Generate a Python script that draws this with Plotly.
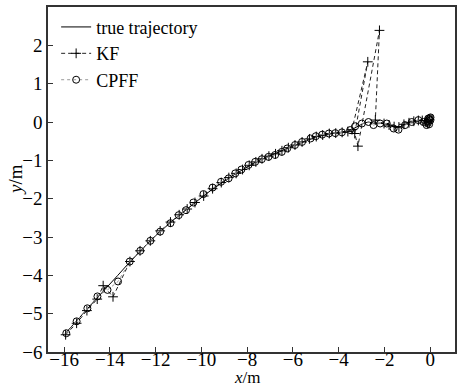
import plotly.graph_objects as go

true_x = [-15.95, -15.48, -15.02, -14.57, -14.13, -13.65, -13.17, -12.70, -12.25, -11.81,
          -11.37, -10.98, -10.64, -10.30, -9.93, -9.53, -9.15, -8.81, -8.50, -8.22,
          -7.93, -7.64, -7.36, -7.07, -6.78, -6.50, -6.22, -5.93, -5.62, -5.30,
          -5.00, -4.72, -4.43, -4.15, -3.87, -3.62, -3.38, -3.15, -2.93, -2.70,
          -2.48, -2.25, -2.02, -1.80, -1.58, -1.37, -1.15, -0.93, -0.72, -0.52,
          -0.35, -0.22, -0.12, -0.06, -0.03]
true_y = [-5.52, -5.22, -4.90, -4.60, -4.32, -4.00, -3.68, -3.38, -3.11, -2.86,
          -2.63, -2.44, -2.28, -2.11, -1.94, -1.76, -1.60, -1.47, -1.35, -1.25,
          -1.14, -1.05, -0.97, -0.90, -0.84, -0.77, -0.69, -0.61, -0.53, -0.45,
          -0.39, -0.35, -0.31, -0.29, -0.27, -0.24, -0.18, -0.10, -0.04, 0.00,
          -0.03, -0.03, -0.03, -0.08, -0.13, -0.14, -0.07, -0.02, 0.02, 0.05,
          0.04, 0.00, -0.03, 0.02, 0.06]

kf_x = [-15.93, -15.45, -15.00, -14.55, -14.29, -13.86, -13.12, -12.68, -12.23, -11.80,
        -11.35, -10.97, -10.62, -10.28, -9.90, -9.51, -9.13, -8.80, -8.48, -8.20,
        -7.91, -7.62, -7.35, -7.05, -6.76, -6.48, -6.20, -5.91, -5.60, -5.28,
        -4.98, -4.70, -4.41, -4.13, -3.85, -3.60, -3.42, -2.73, -3.30, -3.16,
        -2.22, -2.40, -2.02, -1.80, -1.58, -1.37, -1.15, -0.93, -0.72, -0.52,
        -0.35, -0.22, -0.12, -0.06, -0.03]
kf_y = [-5.55, -5.25, -4.92, -4.62, -4.27, -4.56, -3.64, -3.36, -3.10, -2.84,
        -2.61, -2.42, -2.27, -2.10, -1.93, -1.74, -1.58, -1.45, -1.34, -1.24,
        -1.13, -1.04, -0.96, -0.89, -0.83, -0.75, -0.67, -0.60, -0.52, -0.44,
        -0.38, -0.34, -0.30, -0.29, -0.27, -0.25, -0.20, 1.57, -0.30, -0.63,
        2.39, 0.05, -0.04, -0.08, -0.12, -0.13, -0.06, -0.02, 0.02, 0.04,
        0.04, 0.00, -0.02, 0.02, 0.06]

cpff_x = [-15.90, -15.45, -14.98, -14.54, -14.10, -13.64, -13.13, -12.67, -12.23, -11.80,
          -11.35, -10.99, -10.67, -10.35, -9.91, -9.51, -9.14, -8.81, -8.52, -8.25,
          -7.94, -7.65, -7.36, -7.07, -6.78, -6.49, -6.25, -5.91, -5.60, -5.23,
          -5.00, -4.72, -4.43, -4.15, -3.86, -3.50, -3.28, -2.99, -2.70, -2.48,
          -2.19, -1.90, -1.60, -1.39, -1.10, -0.81, -0.52, -0.30, -0.16, -0.09,
          -0.12, -0.02, 0.00, -0.05, -0.10, 0.01, -0.04]
cpff_y = [-5.51, -5.20, -4.86, -4.55, -4.38, -4.16, -3.64, -3.36, -3.10, -2.86,
          -2.64, -2.43, -2.30, -2.10, -1.88, -1.71, -1.56, -1.47, -1.34, -1.24,
          -1.12, -1.04, -0.97, -0.91, -0.86, -0.78, -0.69, -0.60, -0.52, -0.43,
          -0.37, -0.33, -0.30, -0.29, -0.27, -0.21, -0.11, -0.04, 0.00, -0.08,
          -0.04, -0.04, -0.17, -0.20, -0.08, 0.00, 0.05, 0.00, -0.08, 0.09,
          0.02, 0.10, 0.04, -0.06, -0.02, 0.12, 0.07]

x_ticks = [-16, -14, -12, -10, -8, -6, -4, -2, 0]
y_ticks = [-6, -5, -4, -3, -2, -1, 0, 1, 2]

FONT = "Liberation Serif, Times New Roman, serif"

fig = go.Figure()
fig.add_trace(go.Scatter(x=true_x, y=true_y, mode="lines", name="true trajectory",
                         line=dict(color="black", width=1)))
fig.add_trace(go.Scatter(x=kf_x, y=kf_y, mode="lines+markers", name="KF",
                         line=dict(color="#222", width=1, dash="4px,3px"),
                         marker=dict(symbol="cross-thin-open", size=7, color="black",
                                     line=dict(color="black", width=1))))
fig.add_trace(go.Scatter(x=cpff_x, y=cpff_y, mode="lines+markers", name="CPFF",
                         line=dict(color="#999", width=1, dash="dot"),
                         marker=dict(symbol="circle-open", size=7, color="black",
                                     line=dict(color="black", width=1))))

axis_common = dict(showgrid=False, zeroline=False, ticks="inside", ticklen=5,
                   tickcolor="#333", showline=True, linecolor="#333", linewidth=1.5,
                   mirror=True, tickfont=dict(family=FONT, size=19, color="black"))
fig.update_xaxes(range=[-16.7, 1.08], tickvals=x_ticks, ticklabelstandoff=-11,
                 **axis_common)
fig.update_yaxes(range=[-6, 3], tickvals=y_ticks, **axis_common)

fig.update_layout(
    width=457, height=388,
    margin=dict(l=48, r=0, t=7, b=36),
    paper_bgcolor="white", plot_bgcolor="white",
    showlegend=True,
    legend=dict(x=0.02, y=0.995, xanchor="left", yanchor="top",
                font=dict(family=FONT, size=18, color="black"),
                bgcolor="rgba(0,0,0,0)", tracegroupgap=0, itemwidth=30),
    font=dict(family=FONT, color="black"),
    annotations=[
        dict(text="<i>x</i>/m", xref="paper", yref="paper", x=0.49, y=-0.074,
             xanchor="center", yanchor="middle", showarrow=False,
             font=dict(family=FONT, size=17, color="black")),
        dict(text="<i>y</i>/m", xref="paper", yref="paper", x=-0.08, y=0.5,
             xanchor="center", yanchor="middle", showarrow=False, textangle=-90,
             font=dict(family=FONT, size=19, color="black")),
    ],
)

fig.write_html("out.html")
